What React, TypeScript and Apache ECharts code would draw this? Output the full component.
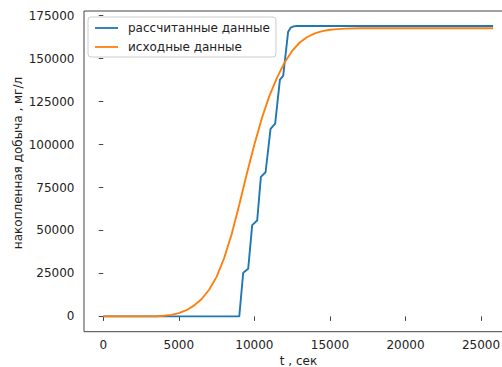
import React, { useEffect, useRef } from "react";
import * as echarts from "echarts";

const blueName = "рассчитанные данные";
const orangeName = "исходные данные";
const xTitle = "t , сек";
const yTitle = "накопленная добыча , мг/л";

const xTicks = [0, 5000, 10000, 15000, 20000, 25000];
const yTicks = [0, 25000, 50000, 75000, 100000, 125000, 150000, 175000];

const blueT = [0, 9000, 9260, 9590, 9855, 10185, 10430, 10740, 11070, 11375, 11690, 11905, 12235, 12400, 12600, 12800, 25800];
const blueV = [0, 0, 25400, 27700, 53100, 55800, 81200, 83900, 109100, 112200, 137800, 140000, 165700, 168000, 168800, 169000, 169000];

const orangeT = [0, 1000, 2000, 3000, 3500, 4000, 4500, 5000, 5500, 6000, 6500, 7000, 7500, 8000, 8500, 9000, 9500, 10000, 10500, 11000, 11500, 12000, 12500, 13000, 13500, 14000, 14500, 15000, 15500, 16000, 17000, 18000, 20000, 25800];
const orangeV = [0, 0, 0, 30, 120, 350, 900, 1900, 3600, 6300, 10000, 15500, 23000, 34000, 48000, 65000, 83000, 100000, 115500, 128500, 139000, 147800, 154500, 159400, 162600, 164700, 166000, 166800, 167200, 167450, 167650, 167700, 167700, 167700];

const FONT = "DejaVu Sans";
const TXT = "#222222";
const FS = 12;

export default function App() {
  const ref = useRef<HTMLDivElement>(null);
  useEffect(() => {
    if (!ref.current) return;
    const chart = echarts.init(ref.current, null, { renderer: "svg" });
    const blueData = blueT.map((t, i) => [t, blueV[i]]);
    const orangeData = orangeT.map((t, i) => [t, orangeV[i]]);
    const plain = (v: number) => String(Math.round(v));
    chart.setOption({
      animation: false,
      backgroundColor: "#ffffff",
      grid: {
        left: 84,
        top: 11,
        width: 428.6,
        height: 320.7,
        show: true,
        borderColor: "#444444",
        borderWidth: 1,
        backgroundColor: "transparent",
      },
      xAxis: {
        type: "value",
        min: -1277,
        max: 27090,
        splitLine: { show: false },
        axisLine: { show: false },
        axisTick: { show: true, length: 4.5, lineStyle: { color: "#444444", width: 1 }, customValues: xTicks },
        axisLabel: {
          show: true,
          customValues: xTicks,
          formatter: plain,
          margin: 7,
          fontFamily: FONT,
          fontSize: FS,
          color: TXT,
        },
      },
      yAxis: {
        type: "value",
        min: -8900,
        max: 177730,
        splitLine: { show: false },
        axisLine: { show: false },
        axisTick: { show: true, length: 4.5, lineStyle: { color: "#444444", width: 1 }, customValues: yTicks },
        axisLabel: {
          show: true,
          customValues: yTicks,
          formatter: plain,
          margin: 9.5,
          fontFamily: FONT,
          fontSize: FS,
          color: TXT,
        },
      },
      legend: {
        left: 88,
        top: 17,
        orient: "vertical",
        data: [blueName, orangeName],
        padding: [3, 6, 2, 7],
        itemGap: 3,
        itemWidth: 23,
        itemHeight: 1.8,
        icon: "rect",
        backgroundColor: "rgba(255,255,255,0.8)",
        borderColor: "#cccccc",
        borderWidth: 1,
        borderRadius: 3,
        textStyle: {
          fontFamily: FONT,
          fontSize: FS,
          color: TXT,
          lineHeight: 16,
          padding: [0, 0, 0, 5],
        },
      },
      series: [
        {
          name: blueName,
          type: "line",
          data: blueData,
          showSymbol: false,
          symbol: "none",
          color: "#1f77b4",
          lineStyle: { color: "#1f77b4", width: 1.9 },
          z: 2,
        },
        {
          name: orangeName,
          type: "line",
          data: orangeData,
          showSymbol: false,
          symbol: "none",
          color: "#ff7f0e",
          lineStyle: { color: "#ff7f0e", width: 1.9 },
          z: 3,
        },
      ],
      graphic: [
        {
          type: "text",
          x: 298.5,
          y: 361,
          style: {
            text: xTitle,
            align: "center",
            verticalAlign: "middle",
            fontFamily: FONT,
            fontSize: FS,
            fill: TXT,
          },
        },
        {
          type: "text",
          x: 17.5,
          y: 163,
          rotation: Math.PI / 2,
          style: {
            text: yTitle,
            align: "center",
            verticalAlign: "middle",
            fontFamily: FONT,
            fontSize: FS,
            fill: TXT,
          },
        },
      ],
    });
    return () => chart.dispose();
  }, []);
  return (
    <div style={{ position: "absolute", left: 0, top: 0, width: 502, height: 367, overflow: "hidden", background: "#fff" }}>
      <div ref={ref} style={{ width: 520, height: 367 }} />
    </div>
  );
}
